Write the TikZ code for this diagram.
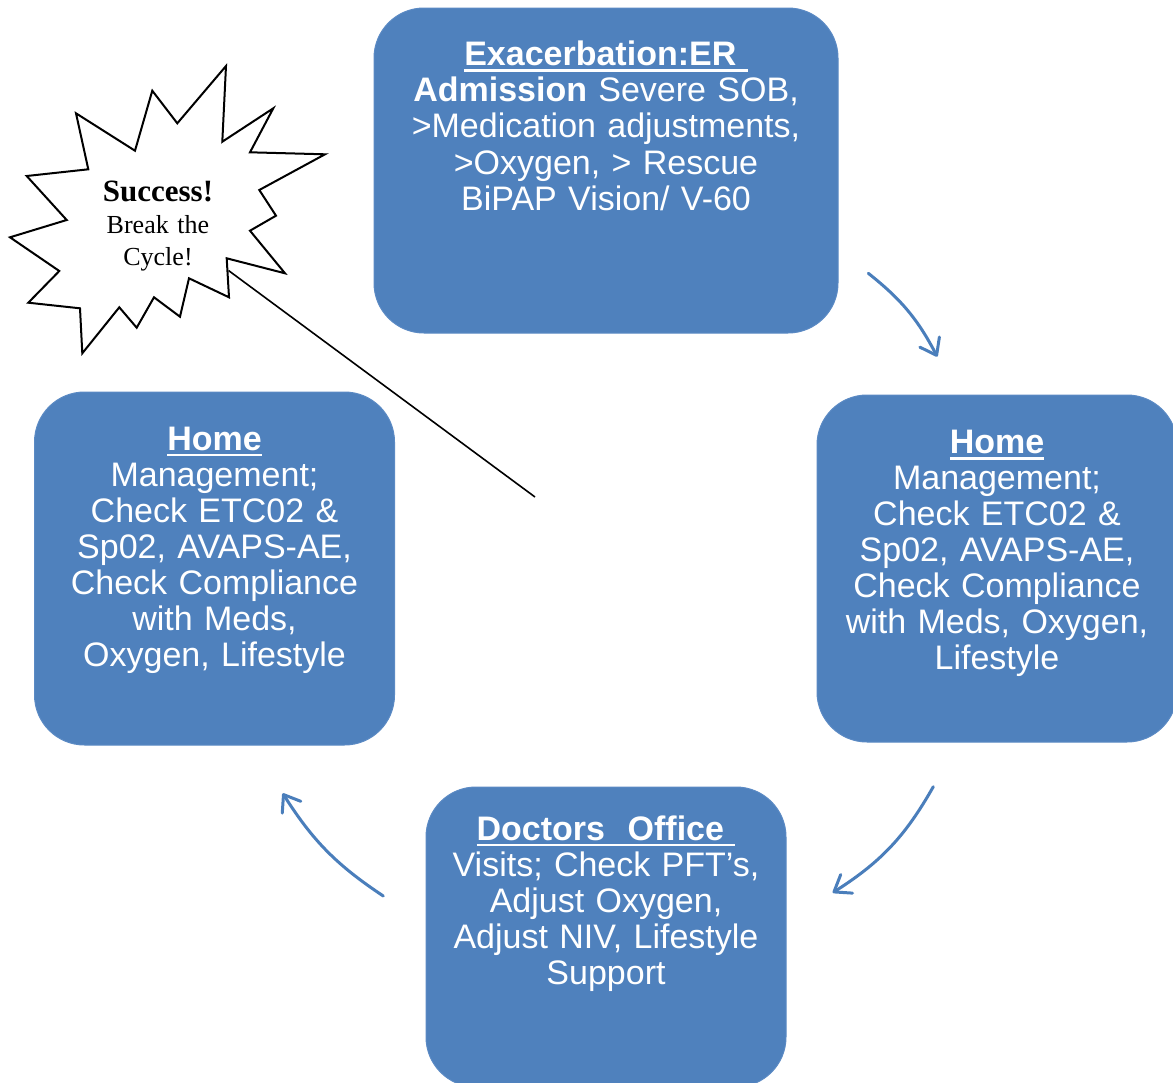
\documentclass[tikz,border=0pt]{standalone}
\usepackage{fontspec}
\setmainfont{Liberation Sans}
\newfontfamily\starserif{Liberation Serif}
\usetikzlibrary{arrows.meta}
\definecolor{boxblue}{HTML}{4F81BD}
\definecolor{boxedge}{HTML}{5B8AC4}
\definecolor{arrblue}{HTML}{4A7EBB}
\newcommand\myul[1]{\setbox0\hbox{#1}\rlap{\rule[-6.3pt]{\wd0}{2.6pt}}\box0}
\begin{document}
\begin{tikzpicture}[x=1pt,y=1pt,
  card/.style={fill=boxblue, draw=boxedge, line width=1pt, rounded corners=50pt, inner sep=0pt},
  cardtext/.style={text=white, align=center, anchor=base, inner sep=0pt, text width=440pt,
    font=\fontsize{34}{36.1}\selectfont},
  cyc/.style={draw=arrblue, line width=3pt, line cap=round,
    -{Straight Barb[length=15pt,width=22pt,line width=3pt,round]}},
  link/.style={draw=black, line width=1.6pt},
  burst/.style={draw=black, fill=white, line width=2pt, line join=miter},
  bursttext/.style={align=center, anchor=base, inner sep=0pt, text width=200pt,
    font=\starserif\fontsize{26}{32}\selectfont}]
\clip (0,0) rectangle (1173,-1082);
\fill[white] (0,0) rectangle (1173,-1082);

% boxes
\node[card, minimum width=464pt, minimum height=325pt] (er) at (606,-170.5) {};
\node[card, minimum width=360pt, minimum height=347pt] (homeR) at (997,-568.5) {};
\node[card, minimum width=360pt, minimum height=300pt] (doc) at (606,-937) {};
\node[card, minimum width=360pt, minimum height=353pt] (homeL) at (214.5,-568.5) {};

% box texts
\node[cardtext] (er-t) at (606,-65.7) {\myul{\textbf{Exacerbation:ER\ }}\\
  \textbf{Admission} Severe SOB,\\ >Medication adjustments,\\ >Oxygen, > Rescue\\ BiPAP Vision/ V-60};
\node[cardtext] (homeR-t) at (997,-453.3) {\myul{\textbf{Home}}\\ Management;\\ Check ETC02 \&\\
  Sp02, AVAPS-AE,\\ Check Compliance\\ with Meds, Oxygen,\\ Lifestyle};
\node[cardtext] (doc-t) at (606,-840) {\myul{\textbf{Doctors\ \ Office\ }}\\ Visits; Check PFT’s,\\
  Adjust Oxygen,\\ Adjust NIV, Lifestyle\\ Support};
\node[cardtext] (homeL-t) at (214.5,-450) {\myul{\textbf{Home}}\\ Management;\\ Check ETC02 \&\\
  Sp02, AVAPS-AE,\\ Check Compliance\\ with Meds,\\ Oxygen, Lifestyle};

% cycle arrows
\coordinate (a1s) at (868.3,-273.3);
\coordinate (a1e) at (937.3,-356.7);
\coordinate (a2s) at (933.3,-786.7);
\coordinate (a2e) at (832.7,-892.7);
\coordinate (a3s) at (383.3,-896);
\coordinate (a3e) at (282.7,-793.3);
\draw[cyc] (a1s) to[bend left=12] (a1e);
\draw[cyc] (a2s) to[bend left=14] (a2e);
\draw[cyc] (a3s) to[bend left=12] (a3e);

% link from burst
\coordinate (linkS) at (228.5,-270.5);
\coordinate (linkE) at (535,-497);
\draw[link] (linkS) -- (linkE);

% burst
\draw[burst] (226,-66) -- (222.3,-141.7) -- (273.3,-108.3) -- (250,-152.3) -- (325,-154.3)
  -- (259.3,-190) -- (276,-215.7) -- (250,-230.7) -- (285,-273.3) -- (226.7,-258.3)
  -- (229,-297.3) -- (189,-278.3) -- (180,-316.7) -- (154,-297.3) -- (136.7,-327.7)
  -- (119.3,-307.3) -- (82.3,-353.3) -- (80,-308.3) -- (28.3,-302.7) -- (59.3,-271)
  -- (10,-237.3) -- (66.7,-220) -- (26.7,-176) -- (88.3,-169.3) -- (76,-113.3)
  -- (135,-150.7) -- (152.3,-90.7) -- (177.3,-123.3) -- cycle;
\node[bursttext] (burst-t) at (158,-201.5) {{\fontsize{31}{32}\selectfont\bfseries Success!}\\ Break the\\ Cycle!};
\end{tikzpicture}
\end{document}
